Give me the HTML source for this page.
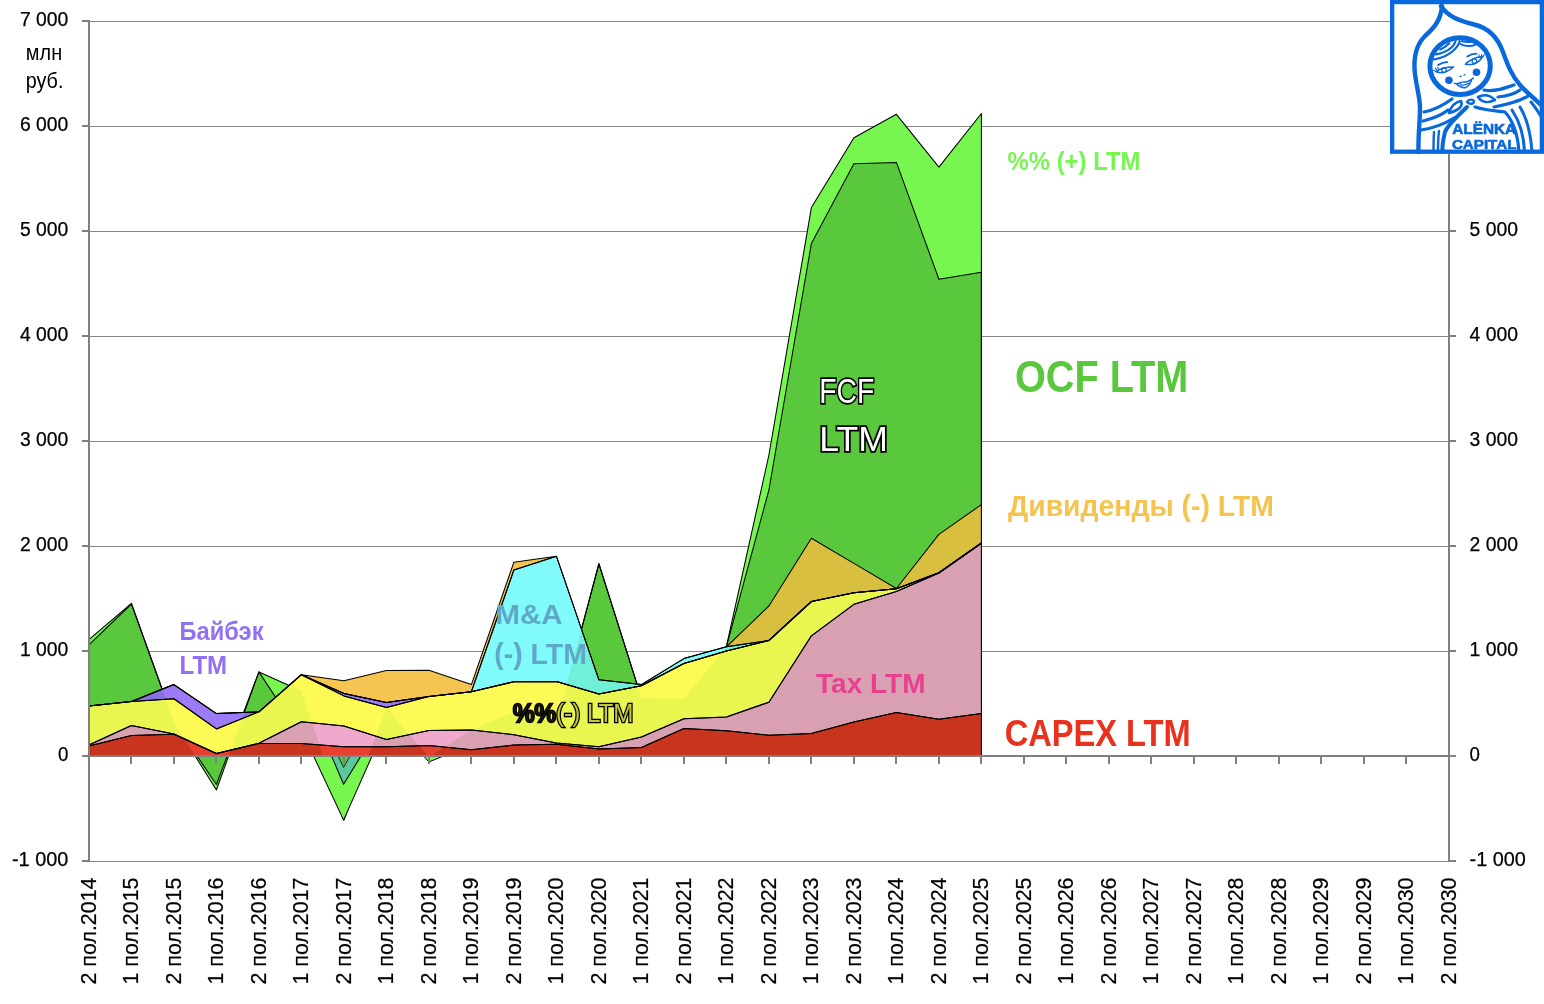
<!DOCTYPE html>
<html><head><meta charset="utf-8"><style>
html,body{margin:0;padding:0;background:#fff;}
svg{display:block;}
svg{will-change:transform;}
</style></head><body>
<svg width="1544" height="1004" viewBox="0 0 1544 1004">
<defs><clipPath id="cg"><polygon points="88.9,755.6 88.9,639.6 131.4,603.3 173.9,722.0 216.4,790.0 258.9,671.9 301.4,691.0 343.9,820.0 386.4,708.0 428.9,757.0 471.4,730.0 513.9,712.0 556.4,723.3 598.9,563.5 641.4,698.0 683.9,699.0 726.4,646.3 768.9,455.0 811.4,207.6 853.9,137.8 896.4,114.3 938.9,167.1 981.4,113.5 981.4,755.6"/></clipPath><clipPath id="co"><path clip-rule="evenodd" d="M0,0 H1544 V1004 H0 Z M88.9,755.6 L88.9,706.0 L131.4,701.5 L173.9,684.6 L216.4,713.6 L258.9,711.8 L301.4,674.7 L343.9,680.8 L386.4,670.6 L428.9,670.2 L471.4,684.6 L513.9,562.2 L556.4,556.2 L598.9,679.8 L641.4,684.6 L683.9,658.6 L726.4,646.8 L768.9,606.0 L811.4,538.3 L853.9,563.4 L896.4,588.5 L938.9,534.4 L981.4,504.6 L981.4,755.6 Z"/></clipPath></defs>
<rect width="1544" height="1004" fill="#fff"/>
<line x1="89" y1="21.5" x2="1390" y2="21.5" stroke="#868686" stroke-width="1"/>
<line x1="89" y1="126.5" x2="1390" y2="126.5" stroke="#868686" stroke-width="1"/>
<line x1="89" y1="231.5" x2="1449" y2="231.5" stroke="#868686" stroke-width="1"/>
<line x1="89" y1="336.5" x2="1449" y2="336.5" stroke="#868686" stroke-width="1"/>
<line x1="89" y1="441.5" x2="1449" y2="441.5" stroke="#868686" stroke-width="1"/>
<line x1="89" y1="546.5" x2="1449" y2="546.5" stroke="#868686" stroke-width="1"/>
<line x1="89" y1="651.5" x2="1449" y2="651.5" stroke="#868686" stroke-width="1"/>
<line x1="89" y1="756.5" x2="1449" y2="756.5" stroke="#868686" stroke-width="1"/>
<line x1="89" y1="861.5" x2="1449" y2="861.5" stroke="#868686" stroke-width="1"/>
<polygon points="88.9,755.6 88.9,639.6 131.4,603.3 173.9,722.0 216.4,790.0 258.9,671.9 301.4,691.0 343.9,820.0 386.4,708.0 428.9,757.0 471.4,730.0 513.9,712.0 556.4,723.3 598.9,563.5 641.4,698.0 683.9,699.0 726.4,646.3 768.9,455.0 811.4,207.6 853.9,137.8 896.4,114.3 938.9,167.1 981.4,113.5 981.4,755.6" fill="#76f64e"/>
<polygon points="88.9,755.6 88.9,644.8 131.4,604.0 173.9,722.0 216.4,784.5 258.9,671.9 301.4,736.5 343.9,755.6 386.4,708.0 428.9,752.0 471.4,730.0 513.9,712.0 556.4,723.3 598.9,564.0 641.4,698.0 683.9,699.0 726.4,646.8 768.9,490.0 811.4,243.4 853.9,163.7 896.4,162.4 938.9,279.3 981.4,272.3 981.4,755.6" fill="#5ac83c"/>
<g clip-path="url(#co)" fill="none" stroke="#000" stroke-width="1.05" stroke-linejoin="round"><polygon points="88.9,755.6 88.9,639.6 131.4,603.3 173.9,722.0 216.4,790.0 258.9,671.9 301.4,691.0 343.9,820.0 386.4,708.0 428.9,757.0 471.4,730.0 513.9,712.0 556.4,723.3 598.9,563.5 641.4,698.0 683.9,699.0 726.4,646.3 768.9,455.0 811.4,207.6 853.9,137.8 896.4,114.3 938.9,167.1 981.4,113.5 981.4,755.6"/><polygon points="88.9,755.6 88.9,644.8 131.4,604.0 173.9,722.0 216.4,784.5 258.9,671.9 301.4,736.5 343.9,755.6 386.4,708.0 428.9,752.0 471.4,730.0 513.9,712.0 556.4,723.3 598.9,564.0 641.4,698.0 683.9,699.0 726.4,646.8 768.9,490.0 811.4,243.4 853.9,163.7 896.4,162.4 938.9,279.3 981.4,272.3 981.4,755.6"/></g>
<polygon points="88.9,746.0 131.4,735.5 173.9,734.3 216.4,753.6 258.9,743.4 301.4,743.5 343.9,746.8 386.4,746.7 428.9,745.5 471.4,749.8 513.9,745.0 556.4,744.3 598.9,749.0 641.4,747.4 683.9,728.6 726.4,730.8 768.9,735.3 811.4,733.5 853.9,722.1 896.4,712.5 938.9,719.2 981.4,713.4 981.4,755.6 938.9,755.6 896.4,755.6 853.9,755.6 811.4,755.6 768.9,755.6 726.4,755.6 683.9,755.6 641.4,755.6 598.9,755.6 556.4,755.6 513.9,755.6 471.4,755.6 428.9,755.6 386.4,755.6 343.9,755.6 301.4,755.6 258.9,755.6 216.4,755.6 173.9,755.6 131.4,755.6 88.9,755.6" fill="#e8402f"/>
<polygon points="88.9,745.0 131.4,725.6 173.9,734.0 216.4,753.6 258.9,743.3 301.4,721.7 343.9,726.0 386.4,739.5 428.9,730.4 471.4,730.0 513.9,734.7 556.4,743.0 598.9,746.7 641.4,737.0 683.9,718.8 726.4,717.0 768.9,702.2 811.4,635.8 853.9,604.3 896.4,591.5 938.9,573.0 981.4,543.2 981.4,713.4 938.9,719.2 896.4,712.5 853.9,722.1 811.4,733.5 768.9,735.3 726.4,730.8 683.9,728.6 641.4,747.4 598.9,749.0 556.4,744.3 513.9,745.0 471.4,749.8 428.9,745.5 386.4,746.7 343.9,746.8 301.4,743.5 258.9,743.4 216.4,753.6 173.9,734.3 131.4,735.5 88.9,746.0" fill="#f0a8cc"/>
<polygon points="88.9,706.0 131.4,701.5 173.9,698.8 216.4,728.9 258.9,711.8 301.4,674.7 343.9,695.9 386.4,707.5 428.9,696.5 471.4,691.7 513.9,681.7 556.4,681.5 598.9,694.1 641.4,685.8 683.9,663.5 726.4,651.0 768.9,640.5 811.4,601.5 853.9,592.8 896.4,588.8 938.9,572.8 981.4,543.0 981.4,543.2 938.9,573.0 896.4,591.5 853.9,604.3 811.4,635.8 768.9,702.2 726.4,717.0 683.9,718.8 641.4,737.0 598.9,746.7 556.4,743.0 513.9,734.7 471.4,730.0 428.9,730.4 386.4,739.5 343.9,726.0 301.4,721.7 258.9,743.3 216.4,753.6 173.9,734.0 131.4,725.6 88.9,745.0" fill="#fdfa55"/>
<polygon points="88.9,706.0 131.4,701.5 173.9,684.6 216.4,713.6 258.9,711.8 301.4,674.7 343.9,693.4 386.4,702.6 428.9,696.5 471.4,691.7 513.9,681.7 556.4,681.5 598.9,694.1 641.4,685.8 683.9,663.5 726.4,651.0 768.9,640.5 811.4,601.5 853.9,592.8 896.4,588.8 938.9,572.8 981.4,543.0 981.4,543.0 938.9,572.8 896.4,588.8 853.9,592.8 811.4,601.5 768.9,640.5 726.4,651.0 683.9,663.5 641.4,685.8 598.9,694.1 556.4,681.5 513.9,681.7 471.4,691.7 428.9,696.5 386.4,707.5 343.9,695.9 301.4,674.7 258.9,711.8 216.4,728.9 173.9,698.8 131.4,701.5 88.9,706.0" fill="#9d7bf6"/>
<polygon points="88.9,706.0 131.4,701.5 173.9,684.6 216.4,713.6 258.9,711.8 301.4,674.7 343.9,693.4 386.4,702.6 428.9,696.5 471.4,691.7 513.9,569.9 556.4,556.2 598.9,679.8 641.4,684.6 683.9,658.6 726.4,646.8 768.9,640.5 811.4,601.5 853.9,592.8 896.4,588.8 938.9,572.8 981.4,543.0 981.4,543.0 938.9,572.8 896.4,588.8 853.9,592.8 811.4,601.5 768.9,640.5 726.4,651.0 683.9,663.5 641.4,685.8 598.9,694.1 556.4,681.5 513.9,681.7 471.4,691.7 428.9,696.5 386.4,702.6 343.9,693.4 301.4,674.7 258.9,711.8 216.4,713.6 173.9,684.6 131.4,701.5 88.9,706.0" fill="#80fafa"/>
<polygon points="88.9,706.0 131.4,701.5 173.9,684.6 216.4,713.6 258.9,711.8 301.4,674.7 343.9,680.8 386.4,670.6 428.9,670.2 471.4,684.6 513.9,562.2 556.4,556.2 598.9,679.8 641.4,684.6 683.9,658.6 726.4,646.8 768.9,606.0 811.4,538.3 853.9,563.4 896.4,588.5 938.9,534.4 981.4,504.6 981.4,543.0 938.9,572.8 896.4,588.8 853.9,592.8 811.4,601.5 768.9,640.5 726.4,646.8 683.9,658.6 641.4,684.6 598.9,679.8 556.4,556.2 513.9,569.9 471.4,691.7 428.9,696.5 386.4,702.6 343.9,693.4 301.4,674.7 258.9,711.8 216.4,713.6 173.9,684.6 131.4,701.5 88.9,706.0" fill="#f5c451"/>
<g clip-path="url(#cg)">
<polygon points="88.9,746.0 131.4,735.5 173.9,734.3 216.4,753.6 258.9,743.4 301.4,743.5 343.9,746.8 386.4,746.7 428.9,745.5 471.4,749.8 513.9,745.0 556.4,744.3 598.9,749.0 641.4,747.4 683.9,728.6 726.4,730.8 768.9,735.3 811.4,733.5 853.9,722.1 896.4,712.5 938.9,719.2 981.4,713.4 981.4,755.6 938.9,755.6 896.4,755.6 853.9,755.6 811.4,755.6 768.9,755.6 726.4,755.6 683.9,755.6 641.4,755.6 598.9,755.6 556.4,755.6 513.9,755.6 471.4,755.6 428.9,755.6 386.4,755.6 343.9,755.6 301.4,755.6 258.9,755.6 216.4,755.6 173.9,755.6 131.4,755.6 88.9,755.6" fill="#c8341e"/>
<polygon points="88.9,745.0 131.4,725.6 173.9,734.0 216.4,753.6 258.9,743.3 301.4,721.7 343.9,726.0 386.4,739.5 428.9,730.4 471.4,730.0 513.9,734.7 556.4,743.0 598.9,746.7 641.4,737.0 683.9,718.8 726.4,717.0 768.9,702.2 811.4,635.8 853.9,604.3 896.4,591.5 938.9,573.0 981.4,543.2 981.4,713.4 938.9,719.2 896.4,712.5 853.9,722.1 811.4,733.5 768.9,735.3 726.4,730.8 683.9,728.6 641.4,747.4 598.9,749.0 556.4,744.3 513.9,745.0 471.4,749.8 428.9,745.5 386.4,746.7 343.9,746.8 301.4,743.5 258.9,743.4 216.4,753.6 173.9,734.3 131.4,735.5 88.9,746.0" fill="#d8a0b0"/>
<polygon points="88.9,706.0 131.4,701.5 173.9,698.8 216.4,728.9 258.9,711.8 301.4,674.7 343.9,695.9 386.4,707.5 428.9,696.5 471.4,691.7 513.9,681.7 556.4,681.5 598.9,694.1 641.4,685.8 683.9,663.5 726.4,651.0 768.9,640.5 811.4,601.5 853.9,592.8 896.4,588.8 938.9,572.8 981.4,543.0 981.4,543.2 938.9,573.0 896.4,591.5 853.9,604.3 811.4,635.8 768.9,702.2 726.4,717.0 683.9,718.8 641.4,737.0 598.9,746.7 556.4,743.0 513.9,734.7 471.4,730.0 428.9,730.4 386.4,739.5 343.9,726.0 301.4,721.7 258.9,743.3 216.4,753.6 173.9,734.0 131.4,725.6 88.9,745.0" fill="#e9f650"/>
<polygon points="88.9,706.0 131.4,701.5 173.9,684.6 216.4,713.6 258.9,711.8 301.4,674.7 343.9,693.4 386.4,702.6 428.9,696.5 471.4,691.7 513.9,681.7 556.4,681.5 598.9,694.1 641.4,685.8 683.9,663.5 726.4,651.0 768.9,640.5 811.4,601.5 853.9,592.8 896.4,588.8 938.9,572.8 981.4,543.0 981.4,543.0 938.9,572.8 896.4,588.8 853.9,592.8 811.4,601.5 768.9,640.5 726.4,651.0 683.9,663.5 641.4,685.8 598.9,694.1 556.4,681.5 513.9,681.7 471.4,691.7 428.9,696.5 386.4,707.5 343.9,695.9 301.4,674.7 258.9,711.8 216.4,728.9 173.9,698.8 131.4,701.5 88.9,706.0" fill="#8a70e0"/>
<polygon points="88.9,706.0 131.4,701.5 173.9,684.6 216.4,713.6 258.9,711.8 301.4,674.7 343.9,693.4 386.4,702.6 428.9,696.5 471.4,691.7 513.9,569.9 556.4,556.2 598.9,679.8 641.4,684.6 683.9,658.6 726.4,646.8 768.9,640.5 811.4,601.5 853.9,592.8 896.4,588.8 938.9,572.8 981.4,543.0 981.4,543.0 938.9,572.8 896.4,588.8 853.9,592.8 811.4,601.5 768.9,640.5 726.4,651.0 683.9,663.5 641.4,685.8 598.9,694.1 556.4,681.5 513.9,681.7 471.4,691.7 428.9,696.5 386.4,702.6 343.9,693.4 301.4,674.7 258.9,711.8 216.4,713.6 173.9,684.6 131.4,701.5 88.9,706.0" fill="#70f0d8"/>
<polygon points="88.9,706.0 131.4,701.5 173.9,684.6 216.4,713.6 258.9,711.8 301.4,674.7 343.9,680.8 386.4,670.6 428.9,670.2 471.4,684.6 513.9,562.2 556.4,556.2 598.9,679.8 641.4,684.6 683.9,658.6 726.4,646.8 768.9,606.0 811.4,538.3 853.9,563.4 896.4,588.5 938.9,534.4 981.4,504.6 981.4,543.0 938.9,572.8 896.4,588.8 853.9,592.8 811.4,601.5 768.9,640.5 726.4,646.8 683.9,658.6 641.4,684.6 598.9,679.8 556.4,556.2 513.9,569.9 471.4,691.7 428.9,696.5 386.4,702.6 343.9,693.4 301.4,674.7 258.9,711.8 216.4,713.6 173.9,684.6 131.4,701.5 88.9,706.0" fill="#d9bf40"/>
</g>
<g fill="none" stroke="#000" stroke-width="1.05" stroke-linejoin="round">
<polygon points="88.9,746.0 131.4,735.5 173.9,734.3 216.4,753.6 258.9,743.4 301.4,743.5 343.9,746.8 386.4,746.7 428.9,745.5 471.4,749.8 513.9,745.0 556.4,744.3 598.9,749.0 641.4,747.4 683.9,728.6 726.4,730.8 768.9,735.3 811.4,733.5 853.9,722.1 896.4,712.5 938.9,719.2 981.4,713.4 981.4,755.6 938.9,755.6 896.4,755.6 853.9,755.6 811.4,755.6 768.9,755.6 726.4,755.6 683.9,755.6 641.4,755.6 598.9,755.6 556.4,755.6 513.9,755.6 471.4,755.6 428.9,755.6 386.4,755.6 343.9,755.6 301.4,755.6 258.9,755.6 216.4,755.6 173.9,755.6 131.4,755.6 88.9,755.6"/>
<polygon points="88.9,745.0 131.4,725.6 173.9,734.0 216.4,753.6 258.9,743.3 301.4,721.7 343.9,726.0 386.4,739.5 428.9,730.4 471.4,730.0 513.9,734.7 556.4,743.0 598.9,746.7 641.4,737.0 683.9,718.8 726.4,717.0 768.9,702.2 811.4,635.8 853.9,604.3 896.4,591.5 938.9,573.0 981.4,543.2 981.4,713.4 938.9,719.2 896.4,712.5 853.9,722.1 811.4,733.5 768.9,735.3 726.4,730.8 683.9,728.6 641.4,747.4 598.9,749.0 556.4,744.3 513.9,745.0 471.4,749.8 428.9,745.5 386.4,746.7 343.9,746.8 301.4,743.5 258.9,743.4 216.4,753.6 173.9,734.3 131.4,735.5 88.9,746.0"/>
<polygon points="88.9,706.0 131.4,701.5 173.9,698.8 216.4,728.9 258.9,711.8 301.4,674.7 343.9,695.9 386.4,707.5 428.9,696.5 471.4,691.7 513.9,681.7 556.4,681.5 598.9,694.1 641.4,685.8 683.9,663.5 726.4,651.0 768.9,640.5 811.4,601.5 853.9,592.8 896.4,588.8 938.9,572.8 981.4,543.0 981.4,543.2 938.9,573.0 896.4,591.5 853.9,604.3 811.4,635.8 768.9,702.2 726.4,717.0 683.9,718.8 641.4,737.0 598.9,746.7 556.4,743.0 513.9,734.7 471.4,730.0 428.9,730.4 386.4,739.5 343.9,726.0 301.4,721.7 258.9,743.3 216.4,753.6 173.9,734.0 131.4,725.6 88.9,745.0"/>
<polygon points="88.9,706.0 131.4,701.5 173.9,684.6 216.4,713.6 258.9,711.8 301.4,674.7 343.9,693.4 386.4,702.6 428.9,696.5 471.4,691.7 513.9,681.7 556.4,681.5 598.9,694.1 641.4,685.8 683.9,663.5 726.4,651.0 768.9,640.5 811.4,601.5 853.9,592.8 896.4,588.8 938.9,572.8 981.4,543.0 981.4,543.0 938.9,572.8 896.4,588.8 853.9,592.8 811.4,601.5 768.9,640.5 726.4,651.0 683.9,663.5 641.4,685.8 598.9,694.1 556.4,681.5 513.9,681.7 471.4,691.7 428.9,696.5 386.4,707.5 343.9,695.9 301.4,674.7 258.9,711.8 216.4,728.9 173.9,698.8 131.4,701.5 88.9,706.0"/>
<polygon points="88.9,706.0 131.4,701.5 173.9,684.6 216.4,713.6 258.9,711.8 301.4,674.7 343.9,693.4 386.4,702.6 428.9,696.5 471.4,691.7 513.9,569.9 556.4,556.2 598.9,679.8 641.4,684.6 683.9,658.6 726.4,646.8 768.9,640.5 811.4,601.5 853.9,592.8 896.4,588.8 938.9,572.8 981.4,543.0 981.4,543.0 938.9,572.8 896.4,588.8 853.9,592.8 811.4,601.5 768.9,640.5 726.4,651.0 683.9,663.5 641.4,685.8 598.9,694.1 556.4,681.5 513.9,681.7 471.4,691.7 428.9,696.5 386.4,702.6 343.9,693.4 301.4,674.7 258.9,711.8 216.4,713.6 173.9,684.6 131.4,701.5 88.9,706.0"/>
<polygon points="88.9,706.0 131.4,701.5 173.9,684.6 216.4,713.6 258.9,711.8 301.4,674.7 343.9,680.8 386.4,670.6 428.9,670.2 471.4,684.6 513.9,562.2 556.4,556.2 598.9,679.8 641.4,684.6 683.9,658.6 726.4,646.8 768.9,606.0 811.4,538.3 853.9,563.4 896.4,588.5 938.9,534.4 981.4,504.6 981.4,543.0 938.9,572.8 896.4,588.8 853.9,592.8 811.4,601.5 768.9,640.5 726.4,646.8 683.9,658.6 641.4,684.6 598.9,679.8 556.4,556.2 513.9,569.9 471.4,691.7 428.9,696.5 386.4,702.6 343.9,693.4 301.4,674.7 258.9,711.8 216.4,713.6 173.9,684.6 131.4,701.5 88.9,706.0"/>
</g>
<polygon points="313.4,755.6 343.6,820.1 372.2,755.6" fill="#76f64e" stroke="#000" stroke-width="1.05" stroke-linejoin="round"/>
<polygon points="331.4,755.6 343.6,784.3 361.2,755.6" fill="#5cc8a0" stroke="#000" stroke-width="1.05" stroke-linejoin="round"/>
<polygon points="337.8,755.6 343.6,767.4 350.3,755.6" fill="#5ac83c" stroke="#000" stroke-width="0.8" stroke-linejoin="round"/>
<polygon points="423.2,755.6 428.9,762.0 444.3,755.6" fill="#76f64e" stroke="#000" stroke-width="1.0" stroke-linejoin="round"/>
<line x1="89" y1="20" x2="89" y2="862" stroke="#808080" stroke-width="2"/>
<line x1="1449" y1="154" x2="1449" y2="862" stroke="#808080" stroke-width="2"/>
<line x1="82" y1="21" x2="89" y2="21" stroke="#808080" stroke-width="2"/>
<line x1="82" y1="126" x2="89" y2="126" stroke="#808080" stroke-width="2"/>
<line x1="82" y1="231" x2="89" y2="231" stroke="#808080" stroke-width="2"/>
<line x1="1449" y1="231" x2="1456" y2="231" stroke="#808080" stroke-width="2"/>
<line x1="82" y1="336" x2="89" y2="336" stroke="#808080" stroke-width="2"/>
<line x1="1449" y1="336" x2="1456" y2="336" stroke="#808080" stroke-width="2"/>
<line x1="82" y1="441" x2="89" y2="441" stroke="#808080" stroke-width="2"/>
<line x1="1449" y1="441" x2="1456" y2="441" stroke="#808080" stroke-width="2"/>
<line x1="82" y1="546" x2="89" y2="546" stroke="#808080" stroke-width="2"/>
<line x1="1449" y1="546" x2="1456" y2="546" stroke="#808080" stroke-width="2"/>
<line x1="82" y1="651" x2="89" y2="651" stroke="#808080" stroke-width="2"/>
<line x1="1449" y1="651" x2="1456" y2="651" stroke="#808080" stroke-width="2"/>
<line x1="82" y1="756" x2="89" y2="756" stroke="#808080" stroke-width="2"/>
<line x1="1449" y1="756" x2="1456" y2="756" stroke="#808080" stroke-width="2"/>
<line x1="82" y1="861" x2="89" y2="861" stroke="#808080" stroke-width="2"/>
<line x1="1449" y1="861" x2="1456" y2="861" stroke="#808080" stroke-width="2"/>
<line x1="88" y1="756" x2="1450" y2="756" stroke="#808080" stroke-width="2"/>
<line x1="89" y1="756" x2="89" y2="764" stroke="#808080" stroke-width="2"/>
<line x1="131" y1="756" x2="131" y2="764" stroke="#808080" stroke-width="2"/>
<line x1="174" y1="756" x2="174" y2="764" stroke="#808080" stroke-width="2"/>
<line x1="216" y1="756" x2="216" y2="764" stroke="#808080" stroke-width="2"/>
<line x1="259" y1="756" x2="259" y2="764" stroke="#808080" stroke-width="2"/>
<line x1="301" y1="756" x2="301" y2="764" stroke="#808080" stroke-width="2"/>
<line x1="344" y1="756" x2="344" y2="764" stroke="#808080" stroke-width="2"/>
<line x1="386" y1="756" x2="386" y2="764" stroke="#808080" stroke-width="2"/>
<line x1="429" y1="756" x2="429" y2="764" stroke="#808080" stroke-width="2"/>
<line x1="471" y1="756" x2="471" y2="764" stroke="#808080" stroke-width="2"/>
<line x1="514" y1="756" x2="514" y2="764" stroke="#808080" stroke-width="2"/>
<line x1="556" y1="756" x2="556" y2="764" stroke="#808080" stroke-width="2"/>
<line x1="599" y1="756" x2="599" y2="764" stroke="#808080" stroke-width="2"/>
<line x1="641" y1="756" x2="641" y2="764" stroke="#808080" stroke-width="2"/>
<line x1="684" y1="756" x2="684" y2="764" stroke="#808080" stroke-width="2"/>
<line x1="726" y1="756" x2="726" y2="764" stroke="#808080" stroke-width="2"/>
<line x1="769" y1="756" x2="769" y2="764" stroke="#808080" stroke-width="2"/>
<line x1="811" y1="756" x2="811" y2="764" stroke="#808080" stroke-width="2"/>
<line x1="854" y1="756" x2="854" y2="764" stroke="#808080" stroke-width="2"/>
<line x1="896" y1="756" x2="896" y2="764" stroke="#808080" stroke-width="2"/>
<line x1="939" y1="756" x2="939" y2="764" stroke="#808080" stroke-width="2"/>
<line x1="981" y1="756" x2="981" y2="764" stroke="#808080" stroke-width="2"/>
<line x1="1024" y1="756" x2="1024" y2="764" stroke="#808080" stroke-width="2"/>
<line x1="1066" y1="756" x2="1066" y2="764" stroke="#808080" stroke-width="2"/>
<line x1="1109" y1="756" x2="1109" y2="764" stroke="#808080" stroke-width="2"/>
<line x1="1151" y1="756" x2="1151" y2="764" stroke="#808080" stroke-width="2"/>
<line x1="1194" y1="756" x2="1194" y2="764" stroke="#808080" stroke-width="2"/>
<line x1="1236" y1="756" x2="1236" y2="764" stroke="#808080" stroke-width="2"/>
<line x1="1279" y1="756" x2="1279" y2="764" stroke="#808080" stroke-width="2"/>
<line x1="1321" y1="756" x2="1321" y2="764" stroke="#808080" stroke-width="2"/>
<line x1="1364" y1="756" x2="1364" y2="764" stroke="#808080" stroke-width="2"/>
<line x1="1406" y1="756" x2="1406" y2="764" stroke="#808080" stroke-width="2"/>
<line x1="1449" y1="756" x2="1449" y2="764" stroke="#808080" stroke-width="2"/>
<text x="68.3" y="26.1" font-family="Liberation Sans, sans-serif" font-size="20" text-anchor="end" textLength="48.4" lengthAdjust="spacingAndGlyphs" fill="#000" stroke="#000" stroke-width="0.25">7 000</text>
<text x="68.3" y="131.1" font-family="Liberation Sans, sans-serif" font-size="20" text-anchor="end" textLength="48.4" lengthAdjust="spacingAndGlyphs" fill="#000" stroke="#000" stroke-width="0.25">6 000</text>
<text x="68.3" y="236.1" font-family="Liberation Sans, sans-serif" font-size="20" text-anchor="end" textLength="48.4" lengthAdjust="spacingAndGlyphs" fill="#000" stroke="#000" stroke-width="0.25">5 000</text>
<text x="1469.6" y="236.1" font-family="Liberation Sans, sans-serif" font-size="20" textLength="48.4" lengthAdjust="spacingAndGlyphs" fill="#000" stroke="#000" stroke-width="0.25">5 000</text>
<text x="68.3" y="341.1" font-family="Liberation Sans, sans-serif" font-size="20" text-anchor="end" textLength="48.4" lengthAdjust="spacingAndGlyphs" fill="#000" stroke="#000" stroke-width="0.25">4 000</text>
<text x="1469.6" y="341.1" font-family="Liberation Sans, sans-serif" font-size="20" textLength="48.4" lengthAdjust="spacingAndGlyphs" fill="#000" stroke="#000" stroke-width="0.25">4 000</text>
<text x="68.3" y="446.1" font-family="Liberation Sans, sans-serif" font-size="20" text-anchor="end" textLength="48.4" lengthAdjust="spacingAndGlyphs" fill="#000" stroke="#000" stroke-width="0.25">3 000</text>
<text x="1469.6" y="446.1" font-family="Liberation Sans, sans-serif" font-size="20" textLength="48.4" lengthAdjust="spacingAndGlyphs" fill="#000" stroke="#000" stroke-width="0.25">3 000</text>
<text x="68.3" y="551.1" font-family="Liberation Sans, sans-serif" font-size="20" text-anchor="end" textLength="48.4" lengthAdjust="spacingAndGlyphs" fill="#000" stroke="#000" stroke-width="0.25">2 000</text>
<text x="1469.6" y="551.1" font-family="Liberation Sans, sans-serif" font-size="20" textLength="48.4" lengthAdjust="spacingAndGlyphs" fill="#000" stroke="#000" stroke-width="0.25">2 000</text>
<text x="68.3" y="656.1" font-family="Liberation Sans, sans-serif" font-size="20" text-anchor="end" textLength="48.4" lengthAdjust="spacingAndGlyphs" fill="#000" stroke="#000" stroke-width="0.25">1 000</text>
<text x="1469.6" y="656.1" font-family="Liberation Sans, sans-serif" font-size="20" textLength="48.4" lengthAdjust="spacingAndGlyphs" fill="#000" stroke="#000" stroke-width="0.25">1 000</text>
<text x="68.3" y="761.1" font-family="Liberation Sans, sans-serif" font-size="20" text-anchor="end" textLength="10.4" lengthAdjust="spacingAndGlyphs" fill="#000" stroke="#000" stroke-width="0.25">0</text>
<text x="1469.6" y="761.1" font-family="Liberation Sans, sans-serif" font-size="20" textLength="10.4" lengthAdjust="spacingAndGlyphs" fill="#000" stroke="#000" stroke-width="0.25">0</text>
<text x="68.3" y="866.1" font-family="Liberation Sans, sans-serif" font-size="20" text-anchor="end" textLength="56.3" lengthAdjust="spacingAndGlyphs" fill="#000" stroke="#000" stroke-width="0.25">-1 000</text>
<text x="1469.6" y="866.1" font-family="Liberation Sans, sans-serif" font-size="20" textLength="56.3" lengthAdjust="spacingAndGlyphs" fill="#000" stroke="#000" stroke-width="0.25">-1 000</text>
<text x="44" y="60" font-family="Liberation Sans, sans-serif" font-size="22.5" text-anchor="middle" textLength="36.3" lengthAdjust="spacingAndGlyphs" fill="#000">млн</text>
<text x="44.6" y="87.9" font-family="Liberation Sans, sans-serif" font-size="22.5" text-anchor="middle" textLength="37.7" lengthAdjust="spacingAndGlyphs" fill="#000">руб.</text>
<text transform="translate(95.8,877.5) rotate(-90)" font-family="Liberation Sans, sans-serif" font-size="22" text-anchor="end" textLength="107" lengthAdjust="spacingAndGlyphs" fill="#000" stroke="#000" stroke-width="0.2">2 пол.2014</text>
<text transform="translate(138.3,877.5) rotate(-90)" font-family="Liberation Sans, sans-serif" font-size="22" text-anchor="end" textLength="107" lengthAdjust="spacingAndGlyphs" fill="#000" stroke="#000" stroke-width="0.2">1 пол.2015</text>
<text transform="translate(180.8,877.5) rotate(-90)" font-family="Liberation Sans, sans-serif" font-size="22" text-anchor="end" textLength="107" lengthAdjust="spacingAndGlyphs" fill="#000" stroke="#000" stroke-width="0.2">2 пол.2015</text>
<text transform="translate(223.3,877.5) rotate(-90)" font-family="Liberation Sans, sans-serif" font-size="22" text-anchor="end" textLength="107" lengthAdjust="spacingAndGlyphs" fill="#000" stroke="#000" stroke-width="0.2">1 пол.2016</text>
<text transform="translate(265.8,877.5) rotate(-90)" font-family="Liberation Sans, sans-serif" font-size="22" text-anchor="end" textLength="107" lengthAdjust="spacingAndGlyphs" fill="#000" stroke="#000" stroke-width="0.2">2 пол.2016</text>
<text transform="translate(308.3,877.5) rotate(-90)" font-family="Liberation Sans, sans-serif" font-size="22" text-anchor="end" textLength="107" lengthAdjust="spacingAndGlyphs" fill="#000" stroke="#000" stroke-width="0.2">1 пол.2017</text>
<text transform="translate(350.8,877.5) rotate(-90)" font-family="Liberation Sans, sans-serif" font-size="22" text-anchor="end" textLength="107" lengthAdjust="spacingAndGlyphs" fill="#000" stroke="#000" stroke-width="0.2">2 пол.2017</text>
<text transform="translate(393.3,877.5) rotate(-90)" font-family="Liberation Sans, sans-serif" font-size="22" text-anchor="end" textLength="107" lengthAdjust="spacingAndGlyphs" fill="#000" stroke="#000" stroke-width="0.2">1 пол.2018</text>
<text transform="translate(435.8,877.5) rotate(-90)" font-family="Liberation Sans, sans-serif" font-size="22" text-anchor="end" textLength="107" lengthAdjust="spacingAndGlyphs" fill="#000" stroke="#000" stroke-width="0.2">2 пол.2018</text>
<text transform="translate(478.3,877.5) rotate(-90)" font-family="Liberation Sans, sans-serif" font-size="22" text-anchor="end" textLength="107" lengthAdjust="spacingAndGlyphs" fill="#000" stroke="#000" stroke-width="0.2">1 пол.2019</text>
<text transform="translate(520.8,877.5) rotate(-90)" font-family="Liberation Sans, sans-serif" font-size="22" text-anchor="end" textLength="107" lengthAdjust="spacingAndGlyphs" fill="#000" stroke="#000" stroke-width="0.2">2 пол.2019</text>
<text transform="translate(563.3,877.5) rotate(-90)" font-family="Liberation Sans, sans-serif" font-size="22" text-anchor="end" textLength="107" lengthAdjust="spacingAndGlyphs" fill="#000" stroke="#000" stroke-width="0.2">1 пол.2020</text>
<text transform="translate(605.8,877.5) rotate(-90)" font-family="Liberation Sans, sans-serif" font-size="22" text-anchor="end" textLength="107" lengthAdjust="spacingAndGlyphs" fill="#000" stroke="#000" stroke-width="0.2">2 пол.2020</text>
<text transform="translate(648.3,877.5) rotate(-90)" font-family="Liberation Sans, sans-serif" font-size="22" text-anchor="end" textLength="107" lengthAdjust="spacingAndGlyphs" fill="#000" stroke="#000" stroke-width="0.2">1 пол.2021</text>
<text transform="translate(690.8,877.5) rotate(-90)" font-family="Liberation Sans, sans-serif" font-size="22" text-anchor="end" textLength="107" lengthAdjust="spacingAndGlyphs" fill="#000" stroke="#000" stroke-width="0.2">2 пол.2021</text>
<text transform="translate(733.3,877.5) rotate(-90)" font-family="Liberation Sans, sans-serif" font-size="22" text-anchor="end" textLength="107" lengthAdjust="spacingAndGlyphs" fill="#000" stroke="#000" stroke-width="0.2">1 пол.2022</text>
<text transform="translate(775.8,877.5) rotate(-90)" font-family="Liberation Sans, sans-serif" font-size="22" text-anchor="end" textLength="107" lengthAdjust="spacingAndGlyphs" fill="#000" stroke="#000" stroke-width="0.2">2 пол.2022</text>
<text transform="translate(818.3,877.5) rotate(-90)" font-family="Liberation Sans, sans-serif" font-size="22" text-anchor="end" textLength="107" lengthAdjust="spacingAndGlyphs" fill="#000" stroke="#000" stroke-width="0.2">1 пол.2023</text>
<text transform="translate(860.8,877.5) rotate(-90)" font-family="Liberation Sans, sans-serif" font-size="22" text-anchor="end" textLength="107" lengthAdjust="spacingAndGlyphs" fill="#000" stroke="#000" stroke-width="0.2">2 пол.2023</text>
<text transform="translate(903.3,877.5) rotate(-90)" font-family="Liberation Sans, sans-serif" font-size="22" text-anchor="end" textLength="107" lengthAdjust="spacingAndGlyphs" fill="#000" stroke="#000" stroke-width="0.2">1 пол.2024</text>
<text transform="translate(945.8,877.5) rotate(-90)" font-family="Liberation Sans, sans-serif" font-size="22" text-anchor="end" textLength="107" lengthAdjust="spacingAndGlyphs" fill="#000" stroke="#000" stroke-width="0.2">2 пол.2024</text>
<text transform="translate(988.3,877.5) rotate(-90)" font-family="Liberation Sans, sans-serif" font-size="22" text-anchor="end" textLength="107" lengthAdjust="spacingAndGlyphs" fill="#000" stroke="#000" stroke-width="0.2">1 пол.2025</text>
<text transform="translate(1030.8,877.5) rotate(-90)" font-family="Liberation Sans, sans-serif" font-size="22" text-anchor="end" textLength="107" lengthAdjust="spacingAndGlyphs" fill="#000" stroke="#000" stroke-width="0.2">2 пол.2025</text>
<text transform="translate(1073.3,877.5) rotate(-90)" font-family="Liberation Sans, sans-serif" font-size="22" text-anchor="end" textLength="107" lengthAdjust="spacingAndGlyphs" fill="#000" stroke="#000" stroke-width="0.2">1 пол.2026</text>
<text transform="translate(1115.8,877.5) rotate(-90)" font-family="Liberation Sans, sans-serif" font-size="22" text-anchor="end" textLength="107" lengthAdjust="spacingAndGlyphs" fill="#000" stroke="#000" stroke-width="0.2">2 пол.2026</text>
<text transform="translate(1158.3,877.5) rotate(-90)" font-family="Liberation Sans, sans-serif" font-size="22" text-anchor="end" textLength="107" lengthAdjust="spacingAndGlyphs" fill="#000" stroke="#000" stroke-width="0.2">1 пол.2027</text>
<text transform="translate(1200.8,877.5) rotate(-90)" font-family="Liberation Sans, sans-serif" font-size="22" text-anchor="end" textLength="107" lengthAdjust="spacingAndGlyphs" fill="#000" stroke="#000" stroke-width="0.2">2 пол.2027</text>
<text transform="translate(1243.3,877.5) rotate(-90)" font-family="Liberation Sans, sans-serif" font-size="22" text-anchor="end" textLength="107" lengthAdjust="spacingAndGlyphs" fill="#000" stroke="#000" stroke-width="0.2">1 пол.2028</text>
<text transform="translate(1285.8,877.5) rotate(-90)" font-family="Liberation Sans, sans-serif" font-size="22" text-anchor="end" textLength="107" lengthAdjust="spacingAndGlyphs" fill="#000" stroke="#000" stroke-width="0.2">2 пол.2028</text>
<text transform="translate(1328.3,877.5) rotate(-90)" font-family="Liberation Sans, sans-serif" font-size="22" text-anchor="end" textLength="107" lengthAdjust="spacingAndGlyphs" fill="#000" stroke="#000" stroke-width="0.2">1 пол.2029</text>
<text transform="translate(1370.8,877.5) rotate(-90)" font-family="Liberation Sans, sans-serif" font-size="22" text-anchor="end" textLength="107" lengthAdjust="spacingAndGlyphs" fill="#000" stroke="#000" stroke-width="0.2">2 пол.2029</text>
<text transform="translate(1413.3,877.5) rotate(-90)" font-family="Liberation Sans, sans-serif" font-size="22" text-anchor="end" textLength="107" lengthAdjust="spacingAndGlyphs" fill="#000" stroke="#000" stroke-width="0.2">1 пол.2030</text>
<text transform="translate(1455.8,877.5) rotate(-90)" font-family="Liberation Sans, sans-serif" font-size="22" text-anchor="end" textLength="107" lengthAdjust="spacingAndGlyphs" fill="#000" stroke="#000" stroke-width="0.2">2 пол.2030</text>
<text x="1007.5" y="169.8" font-family="Liberation Sans, sans-serif" font-weight="bold" font-size="25" textLength="133" lengthAdjust="spacingAndGlyphs" fill="#76f64e" >%% (+) LTM</text>
<text x="1015" y="392.2" font-family="Liberation Sans, sans-serif" font-weight="bold" font-size="44.5" textLength="173.3" lengthAdjust="spacingAndGlyphs" fill="#5ac83c" >OCF LTM</text>
<text x="1008" y="516.3" font-family="Liberation Sans, sans-serif" font-weight="bold" font-size="29" textLength="266" lengthAdjust="spacingAndGlyphs" fill="#f4c350" >Дивиденды (-) LTM</text>
<text x="816" y="692.7" font-family="Liberation Sans, sans-serif" font-weight="bold" font-size="28.5" textLength="109.6" lengthAdjust="spacingAndGlyphs" fill="#e8408f" >Tax LTM</text>
<text x="1004.7" y="745.9" font-family="Liberation Sans, sans-serif" font-weight="bold" font-size="36" textLength="186" lengthAdjust="spacingAndGlyphs" fill="#e8321e" >CAPEX LTM</text>
<text x="179.5" y="639.9" font-family="Liberation Sans, sans-serif" font-weight="bold" font-size="25" textLength="84" lengthAdjust="spacingAndGlyphs" fill="#9270f2" >Байбэк</text>
<text x="179.5" y="673.9" font-family="Liberation Sans, sans-serif" font-weight="bold" font-size="25" textLength="47.6" lengthAdjust="spacingAndGlyphs" fill="#9270f2" >LTM</text>
<text x="495.5" y="623.6" font-family="Liberation Sans, sans-serif" font-weight="bold" font-size="28.5" textLength="67" lengthAdjust="spacingAndGlyphs" fill="#60a8c8" >M&amp;A</text>
<text x="494.3" y="663.6" font-family="Liberation Sans, sans-serif" font-weight="bold" font-size="29" textLength="92.5" lengthAdjust="spacingAndGlyphs" fill="#60a8c8" >(-) LTM</text>
<text x="513" y="722.4" font-family="Liberation Sans, sans-serif"  font-size="25" textLength="120.5" lengthAdjust="spacingAndGlyphs" fill="#c4c63c" stroke="#000" stroke-width="2.6" paint-order="stroke"><tspan fill="#1a1a08">%%</tspan>(-) LTM</text>
<text x="819.3" y="403.2" font-family="Liberation Sans, sans-serif"  font-size="34.5" textLength="55" lengthAdjust="spacingAndGlyphs" fill="#fff" stroke="#000" stroke-width="3.4" paint-order="stroke">FCF</text>
<text x="819.3" y="450.8" font-family="Liberation Sans, sans-serif"  font-size="34.5" textLength="68.5" lengthAdjust="spacingAndGlyphs" fill="#fff" stroke="#000" stroke-width="3.4" paint-order="stroke">LTM</text>
<g transform="translate(1390,0)" fill="none" stroke="#0868dc" stroke-linecap="round" stroke-linejoin="round">
<rect x="0" y="0" width="154" height="154" fill="#fff" stroke="none"/>
<path d="M52,6 C51,20 44,28 35,36 C26,45 24,56 24.5,68 C25,82 30,96 30,108 C30,122 28,135 28.5,152" stroke-width="4.4"/>
<path d="M51,6 C58,17 70,21 84,24.5 C99,28 108,38 113,52 C118,66 122,76 130,85 C137,93 144,98 152,106" stroke-width="4.4"/>
<ellipse cx="70.1" cy="66.1" rx="30.2" ry="28.4" stroke-width="5"/>
<path d="M44,59.5 C52,58 60,54 64,50 C67,47 69,44 69.7,41.2 M46,54.4 C53,53 59,50 62,47 C64,45 65,43 65.6,41.2 M50.2,49.5 C54,48 57,45.5 59.3,43.2" stroke-width="2.2"/>
<path d="M70.4,44 C74,46.5 81,46.8 85.8,44.6 M71.8,41.2 C75,42 79,42 82,41.8" stroke-width="2"/>
<path d="M48.1,65 C51,63 54,62 57.2,62.1 M77.4,56.5 C80,54.7 83,53.8 86.5,53.7" stroke-width="1.8"/>
<path d="M46,71.8 C50,68.5 56,67 63.5,67 C60,70 57,72.5 52,72.8 C50,72.8 48,72.5 46,71.8 Z" stroke-width="1.5"/>
<path d="M75.3,64.2 C80,59.5 86,57 92.8,56.5 C90,61 86,63.6 82,64.4 C79,64.8 77,64.6 75.3,64.2 Z" stroke-width="1.5"/>
<circle cx="54" cy="70" r="2.3" stroke-width="1.3"/><circle cx="84.4" cy="61.2" r="2.3" stroke-width="1.3"/>
<path d="M46,71.5 l-2.5,-1.2 M46.8,70.2 l-1.5,-2 M48.5,69.5 l-0.8,-2.3 M92.5,56.8 l1.6,-2 M91,57 l0.8,-2.5 M89,57.3 l0,-2.5" stroke-width="1.1"/>
<circle cx="86.5" cy="72.2" r="3.8" fill="#0868dc" stroke="none"/><circle cx="58.9" cy="80.2" r="3.8" fill="#0868dc" stroke="none"/>
<path d="M70,76.5 l1.2,-0.3 M74,75.3 l0.8,-0.6" stroke-width="1.3"/>
<path d="M64.5,83.3 C67,84 69,83.5 71,82.5 C73,81.5 75,82 76,82 C78,81.5 81,80 83.3,78.1 M66.5,84 C69,86.5 72,88 75,87.8 C78,87 80,84 81.5,80.5 M70.5,84.8 C73,85.5 76,85 79,83" stroke-width="1.4"/>
<path d="M34,112 C45,110 55,104 62,99 M33,121 C45,118 53,114 58,110 M31,130 C45,128 56,123 64,118" stroke-width="3.2"/>
<path d="M59,113 C61,106 66,102 71,101 C73,106 70,110 59,113 Z" stroke-width="2.6"/>
<path d="M77,102 C79,99 83,99 84,101 C84,104 80,105 77,102 Z" stroke-width="2.4"/>
<path d="M88,97 C94,94 100,95 105,100 C99,103 92,103 88,97 Z" stroke-width="2.6"/>
<path d="M94,90 C105,92 115,88 124,85 M108,97 C118,96 126,93 130,90 M104,107 C120,104 132,100 138,96" stroke-width="3.2"/>
<path d="M77,107 C68,116 58,124 55,132 C53,140 52,145 52.5,152" stroke-width="4"/>
<path d="M85,107 C98,111 108,111 115,112 C124,122 128,136 129,152" stroke-width="3.2"/>
<path d="M122,110 C130,122 134,138 134.5,152 M130,107 C138,120 141,136 142,152 M141,102 C146,108 149,113 152,118" stroke-width="3"/>
<path d="M44,132 C43.5,140 43.5,146 43.5,152 M49,131 C48,139 48,146 48,152" stroke-width="2.4"/>
<rect x="2.15" y="2.1" width="149.7" height="149.6" stroke-width="4.3" stroke-linejoin="miter"/>
<text x="94.2" y="133.8" font-family="Liberation Sans, sans-serif" font-weight="bold" font-size="13.8" text-anchor="middle" textLength="64" lengthAdjust="spacingAndGlyphs" fill="#0868dc" stroke="#0868dc" stroke-width="0.6">ALËNKA</text>
<text x="94.2" y="148.8" font-family="Liberation Sans, sans-serif" font-weight="bold" font-size="13.5" text-anchor="middle" textLength="64.5" lengthAdjust="spacingAndGlyphs" fill="#0868dc" stroke="#0868dc" stroke-width="0.6">CAPITAL</text>
</g>
</svg></body></html>
